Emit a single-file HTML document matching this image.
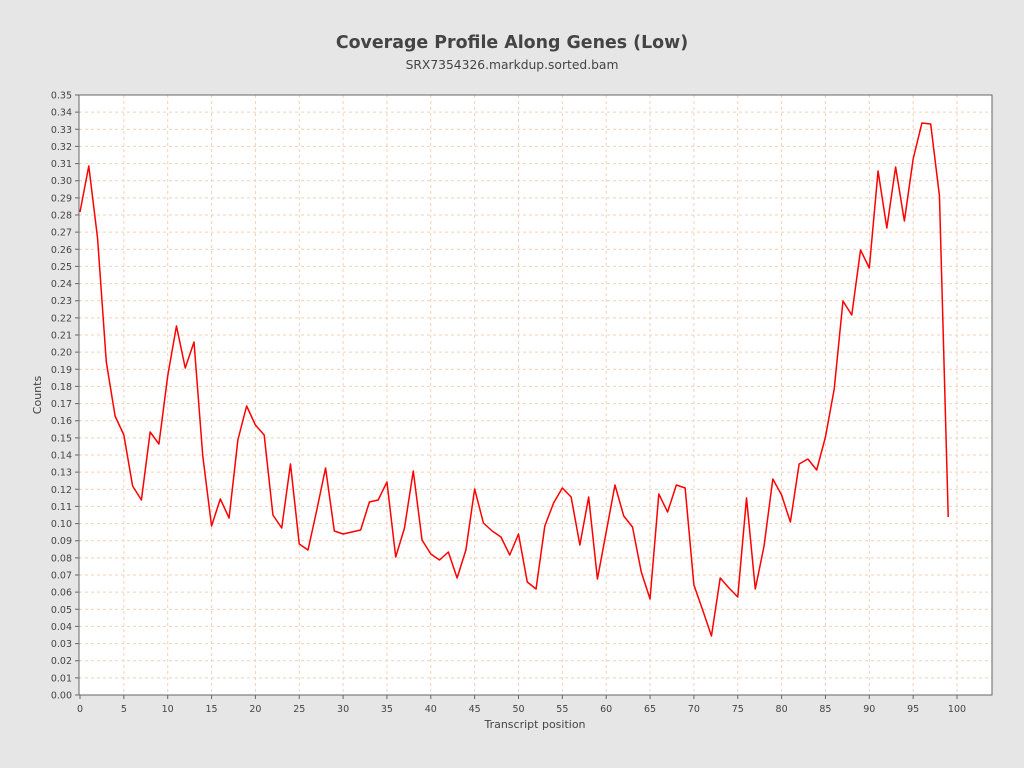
<!DOCTYPE html>
<html><head><meta charset="utf-8"><style>
html,body{margin:0;padding:0;background:#e6e6e6;}
svg{display:block;font-family:"DejaVu Sans","Liberation Sans",sans-serif;}
</style></head><body>
<svg width="1024" height="768" viewBox="0 0 1024 768">
<rect width="1024" height="768" fill="#e6e6e6"/>
<text x="512" y="48" text-anchor="middle" font-size="17.4" font-weight="bold" fill="#444">Coverage Profile Along Genes (Low)</text>
<text x="512" y="69" text-anchor="middle" font-size="12.3" fill="#444">SRX7354326.markdup.sorted.bam</text>
<rect x="79" y="95" width="913" height="600" fill="#fff"/>
<g stroke="#f2d2b8" stroke-width="1" stroke-dasharray="3,3" fill="none">
<path d="M79 677.86H992M79 660.71H992M79 643.57H992M79 626.43H992M79 609.29H992M79 592.14H992M79 575H992M79 557.86H992M79 540.71H992M79 523.57H992M79 506.43H992M79 489.29H992M79 472.14H992M79 455H992M79 437.86H992M79 420.71H992M79 403.57H992M79 386.43H992M79 369.29H992M79 352.14H992M79 335H992M79 317.86H992M79 300.71H992M79 283.57H992M79 266.43H992M79 249.29H992M79 232.14H992M79 215H992M79 197.86H992M79 180.71H992M79 163.57H992M79 146.43H992M79 129.29H992M79 112.14H992"/>
<path d="M123.85 95V695M167.7 95V695M211.55 95V695M255.4 95V695M299.25 95V695M343.1 95V695M386.95 95V695M430.8 95V695M474.65 95V695M518.5 95V695M562.35 95V695M606.2 95V695M650.05 95V695M693.9 95V695M737.75 95V695M781.6 95V695M825.45 95V695M869.3 95V695M913.15 95V695M957 95V695"/>
</g>
<rect x="79" y="95" width="913" height="600" fill="none" stroke="#666" stroke-width="1"/>
<polyline fill="none" stroke="#ff0000" stroke-width="1.5" stroke-linejoin="round" points="80,212 88.77,166 97.54,238 106.31,362 115.08,416 123.85,435 132.62,486 141.39,500 150.16,432 158.93,444 167.7,376 176.47,326 185.24,368 194.01,342 202.78,456 211.55,526 220.32,499 229.09,518 237.86,440 246.63,406 255.4,425 264.17,435 272.94,515 281.71,528 290.48,464 299.25,544 308.02,550 316.79,510 325.56,468 334.33,531 343.1,534 351.87,532 360.64,530 369.41,502 378.18,500 386.95,482 395.72,557 404.49,528 413.26,471 422.03,540 430.8,554 439.57,560 448.34,552 457.11,578 465.88,550 474.65,489 483.42,523 492.19,531 500.96,537 509.73,555 518.5,534 527.27,582 536.04,589 544.81,526 553.58,503 562.35,488 571.12,497 579.89,545 588.66,497 597.43,579 606.2,532 614.97,485 623.74,516 632.51,527 641.28,572 650.05,599 658.82,494 667.59,512 676.36,485 685.13,488 693.9,585 702.67,610 711.44,636 720.21,578 728.98,588 737.75,597 746.52,498 755.29,589 764.06,546 772.83,479 781.6,495 790.37,522 799.14,464 807.91,459 816.68,470 825.45,437 834.22,389 842.99,301 851.76,315 860.53,250 869.3,268 878.07,171 886.84,228 895.61,167 904.38,221 913.15,159 921.92,123 930.69,124 939.46,196 948.23,517"/>
<g stroke="#666" stroke-width="1">
<path d="M75 695H79M75 677.86H79M75 660.71H79M75 643.57H79M75 626.43H79M75 609.29H79M75 592.14H79M75 575H79M75 557.86H79M75 540.71H79M75 523.57H79M75 506.43H79M75 489.29H79M75 472.14H79M75 455H79M75 437.86H79M75 420.71H79M75 403.57H79M75 386.43H79M75 369.29H79M75 352.14H79M75 335H79M75 317.86H79M75 300.71H79M75 283.57H79M75 266.43H79M75 249.29H79M75 232.14H79M75 215H79M75 197.86H79M75 180.71H79M75 163.57H79M75 146.43H79M75 129.29H79M75 112.14H79M75 95H79"/>
<path d="M80 699V695M123.85 699V695M167.7 699V695M211.55 699V695M255.4 699V695M299.25 699V695M343.1 699V695M386.95 699V695M430.8 699V695M474.65 699V695M518.5 699V695M562.35 699V695M606.2 699V695M650.05 699V695M693.9 699V695M737.75 699V695M781.6 699V695M825.45 699V695M869.3 699V695M913.15 699V695M957 699V695"/>
</g>
<g font-size="9.5" fill="#444" text-anchor="end">
<text x="72" y="698.5">0.00</text><text x="72" y="681.4">0.01</text><text x="72" y="664.2">0.02</text><text x="72" y="647.1">0.03</text><text x="72" y="629.9">0.04</text><text x="72" y="612.8">0.05</text><text x="72" y="595.6">0.06</text><text x="72" y="578.5">0.07</text><text x="72" y="561.4">0.08</text><text x="72" y="544.2">0.09</text><text x="72" y="527.1">0.10</text><text x="72" y="509.9">0.11</text><text x="72" y="492.8">0.12</text><text x="72" y="475.6">0.13</text><text x="72" y="458.5">0.14</text><text x="72" y="441.4">0.15</text><text x="72" y="424.2">0.16</text><text x="72" y="407.1">0.17</text><text x="72" y="389.9">0.18</text><text x="72" y="372.8">0.19</text><text x="72" y="355.6">0.20</text><text x="72" y="338.5">0.21</text><text x="72" y="321.4">0.22</text><text x="72" y="304.2">0.23</text><text x="72" y="287.1">0.24</text><text x="72" y="269.9">0.25</text><text x="72" y="252.8">0.26</text><text x="72" y="235.6">0.27</text><text x="72" y="218.5">0.28</text><text x="72" y="201.4">0.29</text><text x="72" y="184.2">0.30</text><text x="72" y="167.1">0.31</text><text x="72" y="149.9">0.32</text><text x="72" y="132.8">0.33</text><text x="72" y="115.6">0.34</text><text x="72" y="98.5">0.35</text>
</g>
<g font-size="9.5" fill="#444" text-anchor="middle">
<text x="80" y="712">0</text><text x="123.85" y="712">5</text><text x="167.7" y="712">10</text><text x="211.55" y="712">15</text><text x="255.4" y="712">20</text><text x="299.25" y="712">25</text><text x="343.1" y="712">30</text><text x="386.95" y="712">35</text><text x="430.8" y="712">40</text><text x="474.65" y="712">45</text><text x="518.5" y="712">50</text><text x="562.35" y="712">55</text><text x="606.2" y="712">60</text><text x="650.05" y="712">65</text><text x="693.9" y="712">70</text><text x="737.75" y="712">75</text><text x="781.6" y="712">80</text><text x="825.45" y="712">85</text><text x="869.3" y="712">90</text><text x="913.15" y="712">95</text><text x="957" y="712">100</text>
</g>
<text x="535" y="728" text-anchor="middle" font-size="11" fill="#444">Transcript position</text>
<text transform="translate(41,395) rotate(-90)" text-anchor="middle" font-size="11" fill="#444">Counts</text>
</svg>
</body></html>
